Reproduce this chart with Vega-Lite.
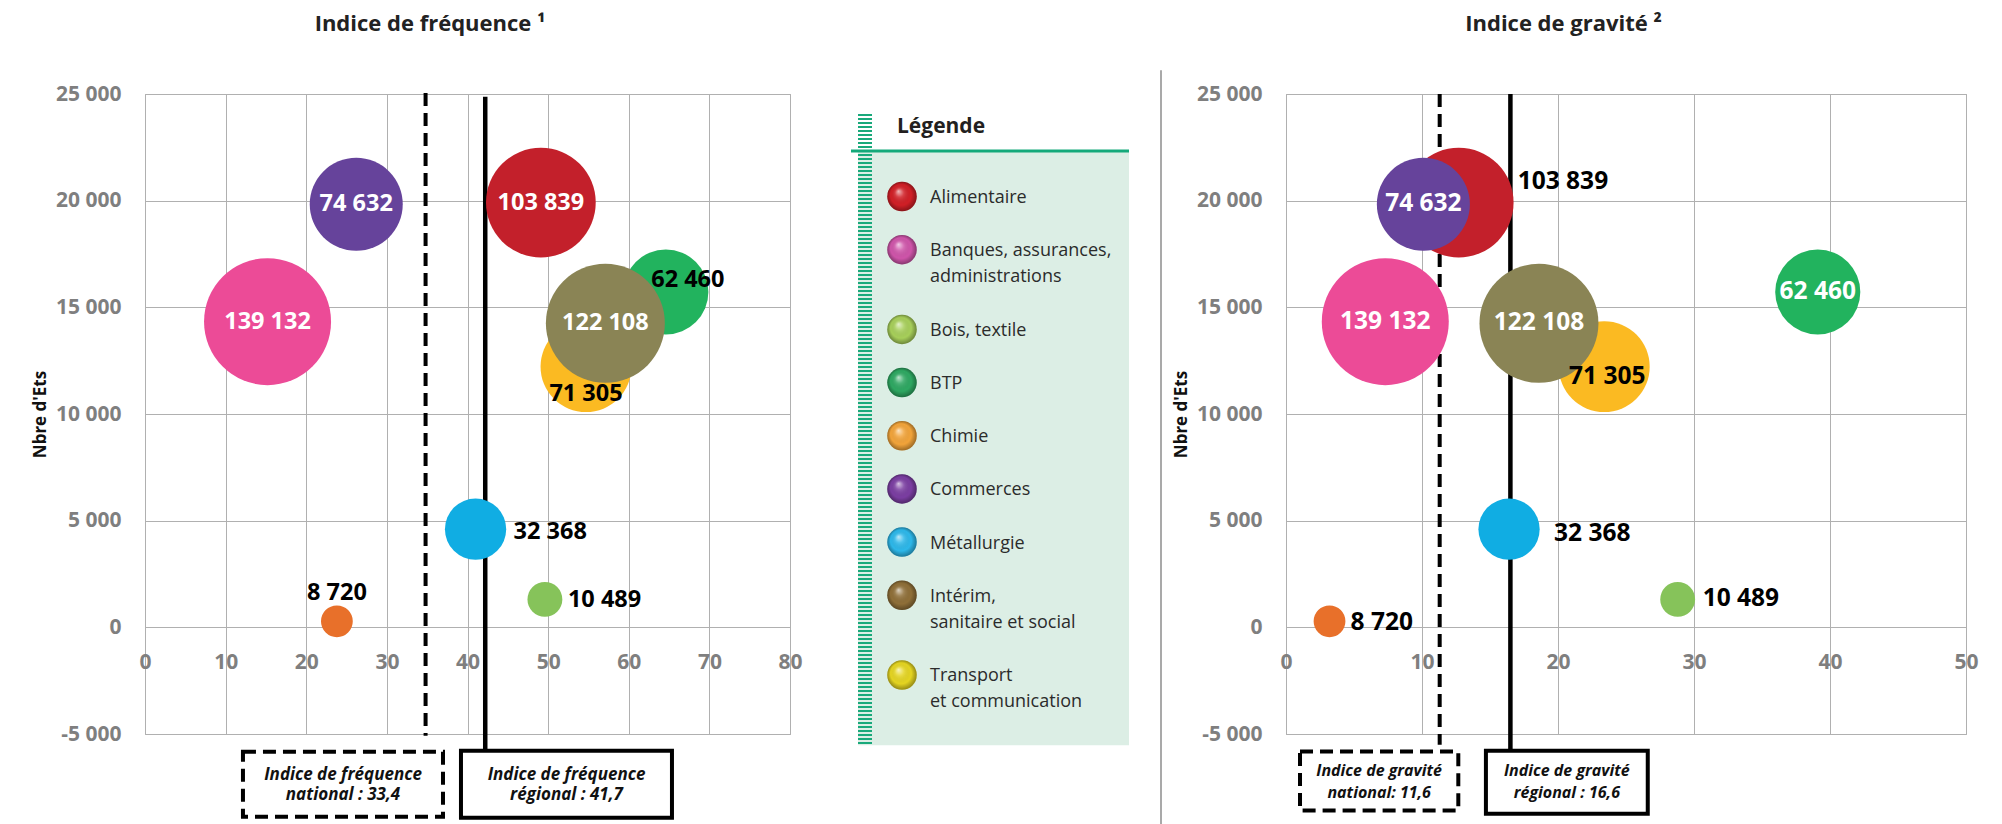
{
  "$schema": "https://vega.github.io/schema/vega-lite/v6.json",
  "padding": {"left": 31, "top": 12, "right": 0, "bottom": 0},
  "bounds": "flush",
  "spacing": 20,
  "config": {
    "font": "Open Sans",
    "locale": {"number": {"decimal": ",", "thousands": " ", "grouping": [3], "currency": ["", " €"], "minus": "-"}},
    "view": {"stroke": "#a3a3a3", "strokeWidth": 1},
    "axis": {"gridColor": "#b0b0b0", "gridWidth": 1, "gridOpacity": 1, "domain": false, "ticks": false, "tickSize": 0, "labelColor": "#7f7f7f", "labelFont": "Open Sans", "labelFontSize": 21, "labelFontWeight": "bold", "labelOverlap": false, "labelFlush": false, "titleFont": "Open Sans", "titleFontSize": 17, "titleFontWeight": "bold", "titleColor": "#111111"},
    "title": {"font": "Open Sans", "fontSize": 22, "fontWeight": "bold", "color": "#222222", "anchor": "middle", "frame": "group"}
  },
  "datasets": {
    "secteurs": [
      {"secteur": "Alimentaire", "effectif": 103839, "ind_freq": 49.1, "ind_grav": 12.7, "etablissements": 19910},
      {"secteur": "Transport et communication", "effectif": 71305, "ind_freq": 54.7, "ind_grav": 23.4, "etablissements": 12220},
      {"secteur": "BTP", "effectif": 62460, "ind_freq": 64.6, "ind_grav": 39.1, "etablissements": 15720},
      {"secteur": "Intérim, sanitaire et social", "effectif": 122108, "ind_freq": 57.1, "ind_grav": 18.6, "etablissements": 14250},
      {"secteur": "Commerces", "effectif": 74632, "ind_freq": 26.2, "ind_grav": 10.1, "etablissements": 19830},
      {"secteur": "Banques, assurances, administrations", "effectif": 139132, "ind_freq": 15.2, "ind_grav": 7.3, "etablissements": 14330},
      {"secteur": "Métallurgie", "effectif": 32368, "ind_freq": 41.0, "ind_grav": 16.4, "etablissements": 4600},
      {"secteur": "Bois, textile", "effectif": 10489, "ind_freq": 49.6, "ind_grav": 28.8, "etablissements": 1310},
      {"secteur": "Chimie", "effectif": 8720, "ind_freq": 23.8, "ind_grav": 3.2, "etablissements": 280}
    ],
    "legende": [
      {"secteur": "Alimentaire", "libelle": ["Alimentaire"], "rang": 0},
      {"secteur": "Banques, assurances, administrations", "libelle": ["Banques, assurances,", "administrations"], "rang": 2},
      {"secteur": "Bois, textile", "libelle": ["Bois, textile"], "rang": 5},
      {"secteur": "BTP", "libelle": ["BTP"], "rang": 7},
      {"secteur": "Chimie", "libelle": ["Chimie"], "rang": 9},
      {"secteur": "Commerces", "libelle": ["Commerces"], "rang": 11},
      {"secteur": "Métallurgie", "libelle": ["Métallurgie"], "rang": 13},
      {"secteur": "Intérim, sanitaire et social", "libelle": ["Intérim,", "sanitaire et social"], "rang": 15},
      {"secteur": "Transport et communication", "libelle": ["Transport", "et communication"], "rang": 18}
    ]
  },
  "resolve": {"scale": {"x": "independent", "y": "independent", "size": "independent", "color": "independent"}},
  "hconcat": [
    {
      "width": 645,
      "height": 640,
      "title": {"text": "Indice de fréquence ¹", "dx": -37.5, "offset": 47},
      "layer": [
        {
          "data": {"values": [{}]},
          "mark": {"type": "rule", "color": "#000000", "strokeWidth": 4, "strokeDash": [13, 7]},
          "encoding": {
            "x": {"datum": 34.8, "type": "quantitative", "scale": {"domain": [0, 80], "nice": false, "zero": false},
                  "axis": {"values": [0, 10, 20, 30, 40, 50, 60, 70, 80], "offset": -106.5, "labelBaseline": "middle", "labelPadding": 35, "title": null, "grid": true, "format": "d"}},
            "y": {"datum": 25050, "type": "quantitative", "scale": {"domain": [-5000, 25000], "nice": false, "zero": false},
                  "axis": {"values": [-5000, 0, 5000, 10000, 15000, 20000, 25000], "format": ",d", "labelPadding": 24, "title": "Nbre d'Ets", "titlePadding": 6, "grid": true}},
            "y2": {"datum": -5080}
          }
        },
        {
          "data": {"values": [{}]},
          "mark": {"type": "rule", "color": "#000000", "strokeWidth": 4.5},
          "encoding": {"x": {"datum": 42.2, "type": "quantitative"}, "y": {"datum": 24870, "type": "quantitative"}, "y2": {"datum": -5787}}
        },
        {
          "data": {"values": [{}]},
          "mark": {"type": "rect", "filled": false, "stroke": "#000000", "strokeWidth": 4, "strokeDash": [13, 7]},
          "encoding": {"x": {"datum": 12.15, "type": "quantitative"}, "x2": {"datum": 36.96}, "y": {"datum": -5834, "type": "quantitative"}, "y2": {"datum": -8880}}
        },
        {
          "data": {"values": [{}]},
          "mark": {"type": "rect", "filled": false, "stroke": "#000000", "strokeWidth": 4},
          "encoding": {"x": {"datum": 39.19, "type": "quantitative"}, "x2": {"datum": 65.36}, "y": {"datum": -5787, "type": "quantitative"}, "y2": {"datum": -8927}}
        },
        {
          "data": {"values": [{}]},
          "mark": {"type": "text", "text": ["Indice de fréquence", "national : 33,4"], "font": "Open Sans", "fontSize": 17, "fontStyle": "italic", "fontWeight": "bold", "color": "#111111", "align": "center", "baseline": "alphabetic", "lineHeight": 20},
          "encoding": {"x": {"datum": 24.56, "type": "quantitative"}, "y": {"datum": -7150, "type": "quantitative"}}
        },
        {
          "data": {"values": [{}]},
          "mark": {"type": "text", "text": ["Indice de fréquence", "régional : 41,7"], "font": "Open Sans", "fontSize": 17, "fontStyle": "italic", "fontWeight": "bold", "color": "#111111", "align": "center", "baseline": "alphabetic", "lineHeight": 20},
          "encoding": {"x": {"datum": 52.28, "type": "quantitative"}, "y": {"datum": -7150, "type": "quantitative"}}
        },
        {
          "data": {"name": "secteurs"},
          "mark": {"type": "circle", "opacity": 1},
          "encoding": {
            "x": {"field": "ind_freq", "type": "quantitative"},
            "y": {"field": "etablissements", "type": "quantitative"},
            "size": {"field": "effectif", "type": "quantitative", "scale": {"domain": [0, 139132], "range": [0, 16129], "zero": true}, "legend": null},
            "color": {"field": "secteur", "type": "nominal", "legend": null,
                      "scale": {"domain": ["Alimentaire", "Banques, assurances, administrations", "Bois, textile", "BTP", "Chimie", "Commerces", "Métallurgie", "Intérim, sanitaire et social", "Transport et communication"],
                                "range": ["#C3202B", "#EC4B97", "#86C35A", "#22B35E", "#E8702A", "#66439B", "#10ADE3", "#8A8455", "#FBBA22"]}}
          }
        },
        {
          "data": {"name": "secteurs"},
          "transform": [{"filter": {"field": "secteur", "oneOf": ["Alimentaire", "Commerces", "Banques, assurances, administrations", "Intérim, sanitaire et social"]}}],
          "mark": {"type": "text", "fontSize": 23.5, "fontWeight": "bold", "color": "#ffffff", "align": "center", "baseline": "middle"},
          "encoding": {"x": {"field": "ind_freq", "type": "quantitative"}, "y": {"field": "etablissements", "type": "quantitative"}, "text": {"field": "effectif", "type": "quantitative", "format": ",d"}}
        },
        {
          "data": {"name": "secteurs"},
          "transform": [{"filter": {"field": "secteur", "equal": "BTP"}}],
          "mark": {"type": "text", "fontSize": 23.5, "fontWeight": "bold", "color": "#000000", "align": "center", "baseline": "middle", "dx": 22, "dy": -12},
          "encoding": {"x": {"field": "ind_freq", "type": "quantitative"}, "y": {"field": "etablissements", "type": "quantitative"}, "text": {"field": "effectif", "type": "quantitative", "format": ",d"}}
        },
        {
          "data": {"name": "secteurs"},
          "transform": [{"filter": {"field": "secteur", "equal": "Transport et communication"}}],
          "mark": {"type": "text", "fontSize": 23.5, "fontWeight": "bold", "color": "#000000", "align": "center", "baseline": "middle", "dy": 27},
          "encoding": {"x": {"field": "ind_freq", "type": "quantitative"}, "y": {"field": "etablissements", "type": "quantitative"}, "text": {"field": "effectif", "type": "quantitative", "format": ",d"}}
        },
        {
          "data": {"name": "secteurs"},
          "transform": [{"filter": {"field": "secteur", "equal": "Métallurgie"}}],
          "mark": {"type": "text", "fontSize": 23.5, "fontWeight": "bold", "color": "#000000", "align": "left", "baseline": "middle", "dx": 38, "dy": 3},
          "encoding": {"x": {"field": "ind_freq", "type": "quantitative"}, "y": {"field": "etablissements", "type": "quantitative"}, "text": {"field": "effectif", "type": "quantitative", "format": ",d"}}
        },
        {
          "data": {"name": "secteurs"},
          "transform": [{"filter": {"field": "secteur", "equal": "Bois, textile"}}],
          "mark": {"type": "text", "fontSize": 23.5, "fontWeight": "bold", "color": "#000000", "align": "left", "baseline": "middle", "dx": 23, "dy": 1},
          "encoding": {"x": {"field": "ind_freq", "type": "quantitative"}, "y": {"field": "etablissements", "type": "quantitative"}, "text": {"field": "effectif", "type": "quantitative", "format": ",d"}}
        },
        {
          "data": {"name": "secteurs"},
          "transform": [{"filter": {"field": "secteur", "equal": "Chimie"}}],
          "mark": {"type": "text", "fontSize": 23.5, "fontWeight": "bold", "color": "#000000", "align": "center", "baseline": "middle", "dy": -28},
          "encoding": {"x": {"field": "ind_freq", "type": "quantitative"}, "y": {"field": "etablissements", "type": "quantitative"}, "text": {"field": "effectif", "type": "quantitative", "format": ",d"}}
        }
      ]
    },
    {
      "width": 456,
      "height": 640,
      "view": {"stroke": null},
      "layer": [
        {
          "data": {"values": [{}]},
          "mark": {"type": "rect", "color": "#DCEEE5"},
          "encoding": {
            "x": {"datum": 48, "type": "quantitative", "scale": {"domain": [0, 456], "nice": false, "zero": false}, "axis": null},
            "x2": {"datum": 319},
            "y": {"datum": -1.675, "type": "quantitative", "scale": {"domain": [-3.856, 20.22], "nice": false, "zero": false, "reverse": true}, "axis": null},
            "y2": {"datum": 20.64}
          }
        },
        {
          "data": {"values": [{}]},
          "mark": {"type": "rule", "color": "#19A97B", "strokeWidth": 14, "strokeDash": [2, 2]},
          "encoding": {"x": {"datum": 55, "type": "quantitative"}, "y": {"datum": -3.1, "type": "quantitative"}, "y2": {"datum": 20.64}}
        },
        {
          "data": {"values": [{}]},
          "mark": {"type": "rule", "color": "#14A97A", "strokeWidth": 3},
          "encoding": {"x": {"datum": 41, "type": "quantitative"}, "x2": {"datum": 319}, "y": {"datum": -1.71, "type": "quantitative"}}
        },
        {
          "data": {"values": [{}]},
          "mark": {"type": "text", "text": "Légende", "font": "Open Sans", "fontSize": 21, "fontWeight": "bold", "color": "#231F20", "align": "left", "baseline": "middle"},
          "encoding": {"x": {"datum": 87, "type": "quantitative"}, "y": {"datum": -2.63, "type": "quantitative"}}
        },
        {
          "data": {"values": [{}]},
          "mark": {"type": "rule", "color": "#8c8c8c", "strokeWidth": 1.5},
          "encoding": {"x": {"datum": 351, "type": "quantitative"}, "y": {"datum": -4.75, "type": "quantitative"}, "y2": {"datum": 23.7}}
        },
        {
          "data": {"name": "legende"},
          "mark": {"type": "point", "shape": "circle", "filled": true, "opacity": 1, "size": 870},
          "encoding": {
            "x": {"datum": 92, "type": "quantitative"},
            "y": {"field": "rang", "type": "quantitative"},
            "color": {"field": "secteur", "type": "nominal", "legend": null,
                      "scale": {"domain": ["Alimentaire", "Banques, assurances, administrations", "Bois, textile", "BTP", "Chimie", "Commerces", "Métallurgie", "Intérim, sanitaire et social", "Transport et communication"],
                                "range": ["#D11F26", "#CF55AA", "#A7CF5A", "#2EA862", "#F2A43A", "#7B3EA2", "#2DB8EA", "#8F6F38", "#E5D521"]}}
          }
        },
        {
          "data": {"name": "legende"},
          "mark": {"type": "point", "shape": "circle", "filled": true, "opacity": 1, "size": 870,
                   "color": {"gradient": "radial", "x1": 0.38, "y1": 0.32, "x2": 0.5, "y2": 0.5, "r1": 0, "r2": 0.5,
                             "stops": [{"offset": 0, "color": "rgba(255,255,255,0.7)"}, {"offset": 0.3, "color": "rgba(255,255,255,0.15)"}, {"offset": 0.7, "color": "rgba(0,0,0,0)"}, {"offset": 1, "color": "rgba(0,0,0,0.35)"}]}},
          "encoding": {"x": {"datum": 92, "type": "quantitative"}, "y": {"field": "rang", "type": "quantitative"}}
        },
        {
          "data": {"name": "legende"},
          "mark": {"type": "text", "font": "Open Sans", "fontSize": 18, "color": "#2b2b2b", "align": "left", "baseline": "alphabetic", "lineHeight": 26, "dy": 6.5},
          "encoding": {"x": {"datum": 120, "type": "quantitative"}, "y": {"field": "rang", "type": "quantitative"}, "text": {"field": "libelle", "type": "nominal"}}
        }
      ]
    },
    {
      "width": 680,
      "height": 640,
      "title": {"text": "Indice de gravité ²", "dx": -62.5, "offset": 47},
      "layer": [
        {
          "data": {"values": [{}]},
          "mark": {"type": "rule", "color": "#000000", "strokeWidth": 4, "strokeDash": [13, 7]},
          "encoding": {
            "x": {"datum": 11.3, "type": "quantitative", "scale": {"domain": [0, 50], "nice": false, "zero": false},
                  "axis": {"values": [0, 10, 20, 30, 40, 50], "offset": -106.5, "labelBaseline": "middle", "labelPadding": 35, "title": null, "grid": true, "format": "d"}},
            "y": {"datum": 25000, "type": "quantitative", "scale": {"domain": [-5000, 25000], "nice": false, "zero": false},
                  "axis": {"values": [-5000, 0, 5000, 10000, 15000, 20000, 25000], "format": ",d", "labelPadding": 24, "title": "Nbre d'Ets", "titlePadding": 6, "grid": true}},
            "y2": {"datum": -5506}
          }
        },
        {
          "data": {"values": [{}]},
          "mark": {"type": "rule", "color": "#000000", "strokeWidth": 4.5},
          "encoding": {"x": {"datum": 16.5, "type": "quantitative"}, "y": {"datum": 25000, "type": "quantitative"}, "y2": {"datum": -5787}}
        },
        {
          "data": {"values": [{}]},
          "mark": {"type": "rect", "filled": false, "stroke": "#000000", "strokeWidth": 4, "strokeDash": [13, 7]},
          "encoding": {"x": {"datum": 1.03, "type": "quantitative"}, "x2": {"datum": 12.67}, "y": {"datum": -5820, "type": "quantitative"}, "y2": {"datum": -8585}}
        },
        {
          "data": {"values": [{}]},
          "mark": {"type": "rect", "filled": false, "stroke": "#000000", "strokeWidth": 4},
          "encoding": {"x": {"datum": 14.7, "type": "quantitative"}, "x2": {"datum": 26.6}, "y": {"datum": -5787, "type": "quantitative"}, "y2": {"datum": -8740}}
        },
        {
          "data": {"values": [{}]},
          "mark": {"type": "text", "text": ["Indice de gravité", "national: 11,6"], "font": "Open Sans", "fontSize": 16, "fontStyle": "italic", "fontWeight": "bold", "color": "#111111", "align": "center", "baseline": "alphabetic", "lineHeight": 22},
          "encoding": {"x": {"datum": 6.85, "type": "quantitative"}, "y": {"datum": -6975, "type": "quantitative"}}
        },
        {
          "data": {"values": [{}]},
          "mark": {"type": "text", "text": ["Indice de gravité", "régional : 16,6"], "font": "Open Sans", "fontSize": 16, "fontStyle": "italic", "fontWeight": "bold", "color": "#111111", "align": "center", "baseline": "alphabetic", "lineHeight": 22},
          "encoding": {"x": {"datum": 20.65, "type": "quantitative"}, "y": {"datum": -6975, "type": "quantitative"}}
        },
        {
          "data": {"name": "secteurs"},
          "mark": {"type": "circle", "opacity": 1},
          "encoding": {
            "x": {"field": "ind_grav", "type": "quantitative"},
            "y": {"field": "etablissements", "type": "quantitative"},
            "size": {"field": "effectif", "type": "quantitative", "scale": {"domain": [0, 139132], "range": [0, 16129], "zero": true}, "legend": null},
            "color": {"field": "secteur", "type": "nominal", "legend": null,
                      "scale": {"domain": ["Alimentaire", "Banques, assurances, administrations", "Bois, textile", "BTP", "Chimie", "Commerces", "Métallurgie", "Intérim, sanitaire et social", "Transport et communication"],
                                "range": ["#C3202B", "#EC4B97", "#86C35A", "#22B35E", "#E8702A", "#66439B", "#10ADE3", "#8A8455", "#FBBA22"]}}
          }
        },
        {
          "data": {"name": "secteurs"},
          "transform": [{"filter": {"field": "secteur", "oneOf": ["Commerces", "Banques, assurances, administrations", "Intérim, sanitaire et social", "BTP"]}}],
          "mark": {"type": "text", "fontSize": 24.5, "fontWeight": "bold", "color": "#ffffff", "align": "center", "baseline": "middle"},
          "encoding": {"x": {"field": "ind_grav", "type": "quantitative"}, "y": {"field": "etablissements", "type": "quantitative"}, "text": {"field": "effectif", "type": "quantitative", "format": ",d"}}
        },
        {
          "data": {"name": "secteurs"},
          "transform": [{"filter": {"field": "secteur", "equal": "Alimentaire"}}],
          "mark": {"type": "text", "fontSize": 24.5, "fontWeight": "bold", "color": "#000000", "align": "left", "baseline": "middle", "dx": 59, "dy": -21},
          "encoding": {"x": {"field": "ind_grav", "type": "quantitative"}, "y": {"field": "etablissements", "type": "quantitative"}, "text": {"field": "effectif", "type": "quantitative", "format": ",d"}}
        },
        {
          "data": {"name": "secteurs"},
          "transform": [{"filter": {"field": "secteur", "equal": "Transport et communication"}}],
          "mark": {"type": "text", "fontSize": 24.5, "fontWeight": "bold", "color": "#000000", "align": "center", "baseline": "middle", "dx": 3, "dy": 10},
          "encoding": {"x": {"field": "ind_grav", "type": "quantitative"}, "y": {"field": "etablissements", "type": "quantitative"}, "text": {"field": "effectif", "type": "quantitative", "format": ",d"}}
        },
        {
          "data": {"name": "secteurs"},
          "transform": [{"filter": {"field": "secteur", "equal": "Métallurgie"}}],
          "mark": {"type": "text", "fontSize": 24.5, "fontWeight": "bold", "color": "#000000", "align": "left", "baseline": "middle", "dx": 45, "dy": 5},
          "encoding": {"x": {"field": "ind_grav", "type": "quantitative"}, "y": {"field": "etablissements", "type": "quantitative"}, "text": {"field": "effectif", "type": "quantitative", "format": ",d"}}
        },
        {
          "data": {"name": "secteurs"},
          "transform": [{"filter": {"field": "secteur", "equal": "Bois, textile"}}],
          "mark": {"type": "text", "fontSize": 24.5, "fontWeight": "bold", "color": "#000000", "align": "left", "baseline": "middle", "dx": 25, "dy": 0},
          "encoding": {"x": {"field": "ind_grav", "type": "quantitative"}, "y": {"field": "etablissements", "type": "quantitative"}, "text": {"field": "effectif", "type": "quantitative", "format": ",d"}}
        },
        {
          "data": {"name": "secteurs"},
          "transform": [{"filter": {"field": "secteur", "equal": "Chimie"}}],
          "mark": {"type": "text", "fontSize": 24.5, "fontWeight": "bold", "color": "#000000", "align": "left", "baseline": "middle", "dx": 21, "dy": 2},
          "encoding": {"x": {"field": "ind_grav", "type": "quantitative"}, "y": {"field": "etablissements", "type": "quantitative"}, "text": {"field": "effectif", "type": "quantitative", "format": ",d"}}
        }
      ]
    }
  ]
}
